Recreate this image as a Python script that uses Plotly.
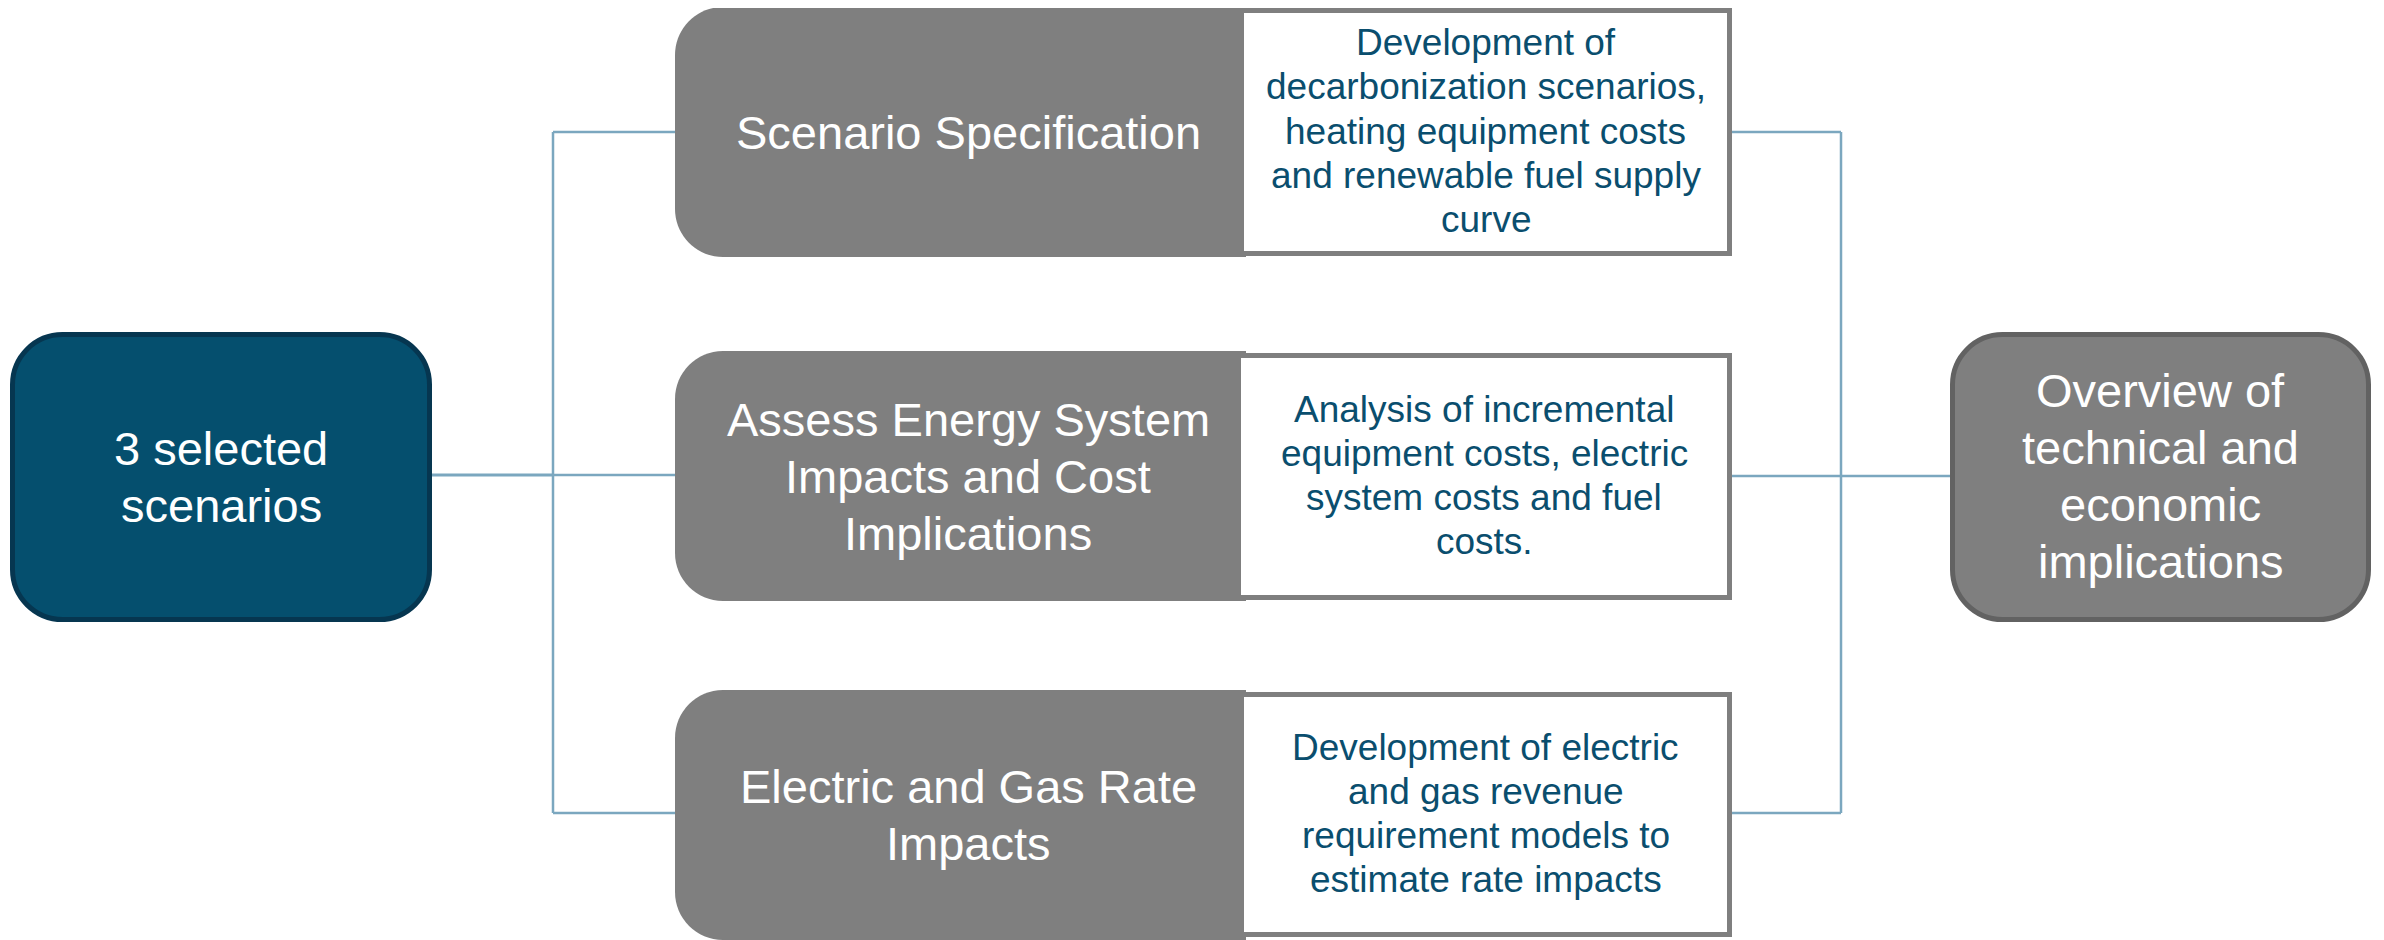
import plotly.graph_objects as go

# ---- content ----
left_label = ["3 selected", "scenarios"]
step_titles = [
    ["Scenario Specification"],
    ["Assess Energy System", "Impacts and Cost", "Implications"],
    ["Electric and Gas Rate", "Impacts"],
]
step_descriptions = [
    ["Development of", "decarbonization scenarios,", "heating equipment costs",
     "and renewable fuel supply", "curve"],
    ["Analysis of incremental", "equipment costs, electric", "system costs and fuel", "costs."],
    ["Development of electric", "and gas revenue", "requirement models to",
     "estimate rate impacts"],
]
right_label = ["Overview of", "technical and", "economic", "implications"]

# ---- layout constants (pixels) ----
W, H = 2384, 940
PAGE_MARGIN = 8  # default body margin of the html page
FONT = "Liberation Sans, Arial, sans-serif"
NAVY_FILL = "#054F6E"
NAVY_EDGE = "#063650"
GRAY = "#7F7F7F"
GRAY_EDGE = "#626262"
LINE = "#7BA7BF"
DESC_COLOR = "#0A4E6E"

rows_gray = [(7, 257), (351, 601), (690, 940)]
rows_white = [(1239, 1732, 8, 256), (1236, 1732, 353, 600), (1239, 1732, 692, 937)]
gray_x0, gray_x1 = 675, 1246
left_box = (10, 432, 332, 622)
right_box = (1950, 2371, 332, 622)
vx_left, vx_right = 553, 1841
branch_y = [132, 475, 813]

K = 0.5523


def rounded_rect(x0, x1, y0, y1, r, left=True, right=True):
    k = r * (1 - K)
    p = []
    if left:
        p.append(f"M {x0 + r},{y0}")
    else:
        p.append(f"M {x0},{y0}")
    if right:
        p.append(f"L {x1 - r},{y0}")
        p.append(f"C {x1 - k},{y0} {x1},{y0 + k} {x1},{y0 + r}")
        p.append(f"L {x1},{y1 - r}")
        p.append(f"C {x1},{y1 - k} {x1 - k},{y1} {x1 - r},{y1}")
    else:
        p.append(f"L {x1},{y0}")
        p.append(f"L {x1},{y1}")
    if left:
        p.append(f"L {x0 + r},{y1}")
        p.append(f"C {x0 + k},{y1} {x0},{y1 - k} {x0},{y1 - r}")
        p.append(f"L {x0},{y0 + r}")
        p.append(f"C {x0},{y0 + k} {x0 + k},{y0} {x0 + r},{y0}")
    else:
        p.append(f"L {x0},{y1}")
    p.append("Z")
    return " ".join(p)


shapes = []


def line(x0, y0, x1, y1, width=2.5):
    shapes.append(dict(type="line", x0=x0, y0=y0, x1=x1, y1=y1, xref="x", yref="y",
                       line=dict(color=LINE, width=width), layer="above"))


# connectors
line(left_box[1], branch_y[1], vx_left, branch_y[1], 3)
line(vx_left, branch_y[0], vx_left, branch_y[2], 2.5)
for y in branch_y:
    line(vx_left, y, gray_x0 + 2, y, 2.5)
    yy = y + (1 if y == branch_y[1] else 0)
    line(rows_white[0][1], yy, vx_right, yy, 2.5)
line(vx_right, branch_y[0], vx_right, branch_y[2], 2.5)
line(vx_right, branch_y[1] + 1, right_box[0], branch_y[1] + 1, 2.5)

# left box
bw = 5
x0, x1, y0, y1 = left_box
shapes.append(dict(type="path", path=rounded_rect(x0 + bw / 2, x1 - bw / 2, y0 + bw / 2, y1 - bw / 2, 50),
                   fillcolor=NAVY_FILL, line=dict(color=NAVY_EDGE, width=bw), xref="x", yref="y",
                   layer="above"))
# right box
x0, x1, y0, y1 = right_box
shapes.append(dict(type="path", path=rounded_rect(x0 + bw / 2, x1 - bw / 2, y0 + bw / 2, y1 - bw / 2, 50),
                   fillcolor=GRAY, line=dict(color=GRAY_EDGE, width=bw), xref="x", yref="y",
                   layer="above"))
# step boxes
for (gy0, gy1), (wx0, wx1, wy0, wy1) in zip(rows_gray, rows_white):
    shapes.append(dict(type="path", path=rounded_rect(gray_x0, gray_x1, gy0, gy1, 48, right=False),
                       fillcolor=GRAY, line=dict(width=0), xref="x", yref="y", layer="above"))
    shapes.append(dict(type="rect", x0=wx0 + bw / 2, x1=wx1 - bw / 2, y0=wy0 + bw / 2, y1=wy1 - bw / 2,
                       fillcolor="white", line=dict(color=GRAY, width=bw), xref="x", yref="y",
                       layer="above"))

annotations = []


def text_block(lines, cx, cy, size, color, spacing):
    n = len(lines)
    for i, t in enumerate(lines):
        y = cy + (i - (n - 1) / 2) * spacing
        annotations.append(dict(x=cx, y=y, xref="x", yref="y", text=t, showarrow=False,
                                xanchor="center", yanchor="middle",
                                font=dict(family=FONT, size=size, color=color)))


text_block(left_label, (left_box[0] + left_box[1]) / 2, 477, 47, "white", 57)
text_block(right_label, (right_box[0] + right_box[1]) / 2, 476, 47, "white", 57)
for (gy0, gy1), (wx0, wx1, wy0, wy1), title, desc in zip(rows_gray, rows_white, step_titles, step_descriptions):
    text_block(title, 968, (gy0 + gy1) / 2, 47, "white", 57)
    text_block(desc, (wx0 + wx1) / 2, (wy0 + wy1) / 2 - 1, 37, DESC_COLOR, 44.3)

fig = go.Figure()
fig.add_trace(go.Scatter(x=[PAGE_MARGIN, W], y=[PAGE_MARGIN, H], mode="markers", marker=dict(opacity=0),
                         hoverinfo="skip", showlegend=False))
fig.update_layout(
    width=W - PAGE_MARGIN, height=H - PAGE_MARGIN,
    margin=dict(l=0, r=0, t=0, b=0),
    paper_bgcolor="white", plot_bgcolor="white",
    xaxis=dict(range=[PAGE_MARGIN, W], visible=False, fixedrange=True),
    yaxis=dict(range=[H, PAGE_MARGIN], visible=False, fixedrange=True),
    shapes=shapes, annotations=annotations, showlegend=False,
)
fig.write_html("out.html", config={"displayModeBar": False})
